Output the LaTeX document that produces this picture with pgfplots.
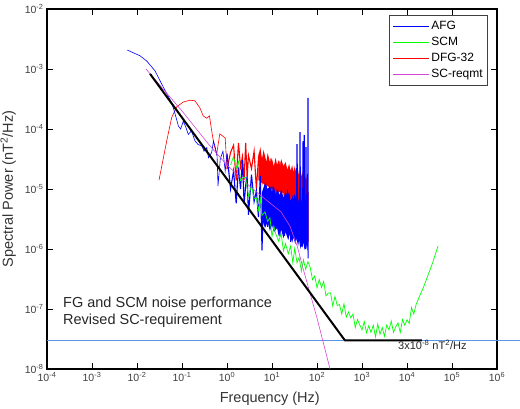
\documentclass[border=0pt]{standalone}
\usepackage{pgfplots}
\pgfplotsset{compat=1.18}
\usepackage{fontspec}
\setmainfont{Liberation Sans}
\definecolor{afgblue}{RGB}{0,0,255}
\definecolor{scmgreen}{RGB}{0,255,0}
\definecolor{dfgred}{RGB}{255,0,0}
\definecolor{reqmag}{RGB}{214,70,214}
\definecolor{reqline}{RGB}{90,150,230}
\begin{document}
\begin{tikzpicture}
\begin{axis}[
  at={(47pt,39pt)}, anchor=south west,
  scale only axis, width=450pt, height=360pt,
  xmode=log, ymode=log, log basis x=10, log basis y=10,
  xmin=1e-4, xmax=1e6, ymin=1e-8, ymax=1e-2,
  clip=false,
  xtick={1e-4,1e-3,1e-2,1e-1,1,10,100,1e3,1e4,1e5,1e6},
  ytick={1e-8,1e-7,1e-6,1e-5,1e-4,1e-3,1e-2},
  xticklabel={\pgfmathparse{int(round(\tick))}10\textsuperscript{\pgfmathresult}},
  yticklabel={\pgfmathparse{int(round(\tick))}10\textsuperscript{\pgfmathresult}},
  tick label style={font=\fontsize{10.5}{12}\selectfont, text=black!75},
  xlabel={Frequency (Hz)},
  ylabel={Spectral Power (nT\textsuperscript{2}/Hz)},
  label style={font=\fontsize{14.5}{16}\selectfont, text=black!80},
  xlabel style={at={(axis description cs:0.495,-0.0944)}, anchor=base},
  ylabel style={at={(axis description cs:-0.0756,0.5)}, anchor=base},
  axis line style={line width=1.1pt},
  major tick length=6pt, minor tick length=3.5pt,
  major tick style={line width=0.7pt, black},
  minor tick style={line width=0.5pt, black},
  legend style={at={(axis description cs:0.98,0.983)}, anchor=north east,
    draw=black!75, line width=0.6pt, fill=white,
    font=\fontsize{12}{13}\selectfont, inner xsep=3pt, inner ysep=4pt, row sep=2pt},
  legend cell align=left,
  legend image code/.code={\draw[#1] (0pt,0pt) -- (36pt,0pt);},
]
\addlegendimage{color=afgblue, draw=afgblue, line width=0.7pt}
\addlegendentry{AFG}
\addlegendimage{color=scmgreen, draw=scmgreen, line width=0.7pt}
\addlegendentry{SCM}
\addlegendimage{color=dfgred, draw=dfgred, line width=0.7pt}
\addlegendentry{DFG-32}
\addlegendimage{color=reqmag, draw=reqmag, line width=0.7pt}
\addlegendentry{SC-reqmt}

% requirement level
\addplot[reqline, line width=0.8pt, forget plot] coordinates {(1e-4,3e-8)(3.2e6,3e-8)};

% DFG-32 dense core of the noise band
\addplot[fill=dfgred, draw=none, forget plot] coordinates {
(5,3.55e-5)(5.5,5.01e-5)(6,3.16e-5)(6.5,4.47e-5)(7,3.55e-5)(7.5,2.82e-5)(8,3.98e-5)(9,2.82e-5)(10,3.16e-5)(11,2.40e-5)(12,3.31e-5)(13,2.51e-5)(14,3.02e-5)(15,2.24e-5)(16,3.16e-5)(18,2.40e-5)(20,2.82e-5)(22,2.09e-5)(24,2.63e-5)(26,2.0e-5)(28,2.51e-5)(30,1.91e-5)(32,2.40e-5)(35,1.78e-5)(37,2.24e-5)(40,1.66e-5)(42,2.19e-5)(45,1.58e-5)(47,2.0e-5)(50,1.51e-5)(52,1.91e-5)(55,1.41e-5)(57,1.78e-5)(60,1.32e-5)(62,1.66e-5)(63,1.41e-5)
(63,3.98e-6)(60,5.01e-6)(55,5.01e-6)(50,5.62e-6)(45,5.62e-6)(40,6.31e-6)(35,6.31e-6)(30,7.08e-6)(25,7.94e-6)(20,8.32e-6)(16,8.91e-6)(13,8.91e-6)(10,1.0e-5)(8,1.12e-5)(6,1.26e-5)(5,1.41e-5)
} -- cycle;
% DFG-32 (low frequencies)
\addplot[dfgred, line width=0.6pt, forget plot] coordinates {
(0.0309,1.41e-5)(0.0457,6.31e-5)(0.0589,1.55e-4)(0.0759,2.34e-4)(0.107,2.82e-4)(0.151,3.02e-4)(0.195,2.95e-4)(0.251,2.24e-4)(0.295,1.66e-4)(0.355,1.51e-4)(0.407,1.66e-4)(0.457,9.33e-5)(0.513,5.50e-5)(0.589,3.80e-5)(0.692,8.32e-5)(0.912,7.08e-5)(1.0,2.14e-5)
};
% DFG-32 (noise band)
\addplot[dfgred, line width=1.1pt, forget plot] coordinates {
(1.0,2.14e-5)(1.2,4.07e-5)(1.4,5.37e-5)(1.6,1.38e-5)(1.8,5.89e-5)(2.0,2.34e-5)(2.2,3.47e-5)(2.4,1.41e-5)(2.6,5.89e-5)(2.8,1.55e-5)(3.0,3.63e-5)(3.5,2.19e-5)(4,4.27e-5)(4.5,1.0e-5)(5,3.24e-5)(5.5,2.0e-5)(6,1.38e-5)(6.5,3.72e-5)(7,9.77e-6)(7.5,2.29e-5)(8,1.12e-5)(8.5,2.88e-5)(9,6.92e-6)(9.5,3.24e-5)(10,1.02e-5)
(11,1.91e-5)(12,6.46e-6)(13,2.24e-5)(14,1.05e-5)(15,2.88e-5)(16,6.17e-6)(17,1.20e-5)(18,1.62e-5)(19,4.27e-6)(20,1.82e-5)(21,7.41e-6)(22,1.10e-5)(23,4.47e-6)(24,1.91e-5)(25,5.01e-6)(26,1.15e-5)(27,7.24e-6)(28,1.45e-5)(29,3.47e-6)(30,1.15e-5)(31,7.24e-6)(32,5.01e-6)(33,1.38e-5)(34,3.63e-6)(35,8.71e-6)(36,4.27e-6)(37,1.10e-5)(38,2.63e-6)(39,1.23e-5)(40,3.98e-6)(41,7.76e-6)(42,2.69e-6)(43,9.77e-6)(44,4.79e-6)(45,1.35e-5)(46,2.95e-6)(47,6.03e-6)(48,8.32e-6)(49,2.24e-6)(50,9.77e-6)(51,3.98e-6)(52,6.17e-6)(53,2.51e-6)(54,1.10e-5)(55,2.88e-6)(56,6.92e-6)(57,4.37e-6)(58,8.91e-6)(59,2.14e-6)(60,7.24e-6)(61,4.57e-6)(62,3.24e-6)(63,8.91e-6)(63.5,1.3e-6)
};

% AFG dense core of the noise band
\addplot[fill=afgblue, draw=none, forget plot] coordinates {
(6,8.91e-6)(7,1.26e-5)(8,1.0e-5)(9,1.12e-5)(10,8.91e-6)(11,1.12e-5)(12,7.94e-6)(13,1.0e-5)(15,7.94e-6)(16,1.0e-5)(18,7.08e-6)(20,8.91e-6)(22,7.59e-6)(24,8.91e-6)(26,6.31e-6)(28,7.94e-6)(30,6.61e-6)(32,8.32e-6)(35,6.31e-6)(37,7.94e-6)(40,5.62e-6)(42,7.59e-6)(45,6.03e-6)(47,7.59e-6)(50,5.62e-6)(52,7.08e-6)(55,6.03e-6)(57,7.08e-6)(60,5.25e-6)(62,6.61e-6)(63,5.62e-6)
(63,1.12e-6)(62,8.91e-7)(60,1.26e-6)(58,1.0e-6)(55,1.20e-6)(53,9.55e-7)(50,1.32e-6)(48,1.05e-6)(45,1.26e-6)(43,1.0e-6)(40,1.41e-6)(38,1.12e-6)(35,1.51e-6)(33,1.20e-6)(30,1.58e-6)(28,1.26e-6)(25,1.78e-6)(23,1.41e-6)(20,1.91e-6)(18,1.51e-6)(16,2.09e-6)(14,1.66e-6)(13,2.24e-6)(11,1.91e-6)(10,2.51e-6)(9,2.0e-6)(8,2.82e-6)(7,2.24e-6)(6,3.16e-6)
} -- cycle;
% AFG (low frequencies)
\addplot[afgblue, line width=0.6pt, forget plot] coordinates {
(0.0061,2.07e-3)(0.0117,1.66e-3)(0.0166,1.35e-3)(0.0251,9.33e-4)(0.0389,4.90e-4)(0.0589,2.75e-4)(0.0692,1.86e-4)(0.0832,1.12e-4)(0.0933,1.0e-4)(0.107,1.35e-4)(0.123,1.05e-4)(0.138,8.13e-5)(0.162,9.33e-5)(0.195,6.31e-5)(0.229,5.50e-5)(0.275,5.25e-5)(0.309,4.27e-5)(0.355,4.90e-5)(0.389,3.31e-5)(0.457,4.07e-5)(0.501,6.31e-5)(0.537,5.25e-5)(0.603,3.55e-5)(0.631,1.12e-5)(0.708,3.16e-5)(0.813,4.27e-5)(0.912,2.0e-5)(1.0,3.89e-5)
};
% AFG (noise band)
\addplot[afgblue, line width=1.1pt, forget plot] coordinates {
(1.0,3.89e-5)(1.2,1.0e-5)(1.4,2.0e-5)(1.6,5.75e-6)(1.8,2.29e-5)(2.0,1.0e-5)(2.2,3.02e-5)(2.4,5.62e-6)(2.6,1.15e-5)(2.8,1.62e-5)(3.0,3.72e-6)(3.5,1.74e-5)(4,6.17e-6)(4.5,9.33e-6)(5,3.39e-6)(5.5,1.66e-5)(6,9.5e-7)(6.5,9.33e-6)(7,5.62e-6)(7.5,1.15e-5)(8,2.34e-6)(8.5,8.91e-6)(9,5.37e-6)(9.5,3.47e-6)(10,1.10e-5)
(11,2.45e-6)(12,6.31e-6)(13,2.82e-6)(14,7.94e-6)(15,1.62e-6)(16,9.12e-6)(17,2.51e-6)(18,5.37e-6)(19,1.66e-6)(20,6.92e-6)(21,3.16e-6)(22,9.77e-6)(23,1.86e-6)(24,3.98e-6)(25,5.75e-6)(26,1.32e-6)(27,6.76e-6)(28,2.51e-6)(29,4.07e-6)(30,1.51e-6)(31,7.94e-6)(32,1.82e-6)(33,4.79e-6)(34,2.88e-6)(35,6.17e-6)(36,5.62e-5)(37,5.01e-6)(38,3.02e-6)(39,2.04e-6)(40,6.46e-6)(41,1.51e-6)(42,8.91e-5)(43,1.78e-6)(44,5.13e-6)(45,1.10e-6)(46,6.17e-6)(47,1.74e-6)(48,3.72e-6)(49,6.31e-5)(50,4.90e-6)(51,2.24e-6)(52,7.94e-5)(53,1.38e-6)(54,2.95e-6)(55,4.27e-6)(56,1.0e-6)(57,5.01e-5)(58,1.91e-6)(59,3.09e-6)(60,1.17e-6)(61,6.17e-6)(62,1.41e-6)(63,3.31e-4)(63.5,7e-7)
};

% SCM
\addplot[scmgreen, line width=0.7pt, forget plot] coordinates {
(1.2,2.51e-5)(1.4,3.47e-5)(1.6,2.24e-5)(1.8,2.88e-5)(2.0,1.38e-5)(2.3,1.55e-5)(2.6,1.55e-5)(3.0,7.59e-6)(3.5,1.15e-5)(4,6.92e-6)(4.5,7.08e-6)(5,4.37e-6)(5.5,6.92e-6)(6,3.63e-6)(7,4.17e-6)(8,2.88e-6)(9,3.31e-6)(10,1.62e-6)(11,2.40e-6)(12,1.82e-6)(14,1.35e-6)(16,1.78e-6)(18,9.33e-7)(20,1.23e-6)(23,8.32e-7)(26,1.12e-6)(29,5.89e-7)(32,1.02e-6)(36,5.89e-7)(40,7.24e-7)(45,4.27e-7)(50,6.61e-7)(56,4.57e-7)(63,6.17e-7)
(70.8,4.90e-7)(79.4,3.09e-7)(89.1,3.55e-7)(100,2.26e-7)(112,3.09e-7)(126,2.29e-7)(141,2.88e-7)(158,1.66e-7)(178,1.84e-7)(200,1.86e-7)(224,1.12e-7)(251,1.62e-7)(282,1.14e-7)(316,1.19e-7)(355,8.22e-8)(398,1.22e-7)(447,7.33e-8)(501,8.91e-8)(562,7.16e-8)(631,8.22e-8)(708,4.90e-8)(794,6.68e-8)(891,5.43e-8)(1000,4.47e-8)(1122,6.17e-8)(1259,4.03e-8)(1413,5.25e-8)(1585,4.07e-8)(1778,5.37e-8)(1995,3.43e-8)(2239,5.62e-8)(2512,3.80e-8)(2818,4.90e-8)(3162,3.51e-8)(3548,5.43e-8)(3981,4.47e-8)(4467,6.31e-8)(5012,4.07e-8)(5623,5.07e-8)(6310,5.89e-8)(7079,4.07e-8)(7943,6.68e-8)(8913,5.37e-8)(10000,6.61e-8)(11220,5.75e-8)(12590,1.06e-7)(14130,8.22e-8)(15850,1.17e-7)(17780,1.45e-7)(19950,1.78e-7)(22910,2.24e-7)(25120,2.69e-7)(28180,3.39e-7)(31620,4.27e-7)(36310,5.62e-7)(39810,6.92e-7)(44670,9.12e-7)(48980,1.12e-6)
};

% SC requirement curve
\addplot[reqmag, line width=0.6pt, forget plot] coordinates {
(0.0158,1.0e-3)(0.1,2.0e-4)(0.417,5.25e-5)(1,2.51e-5)(3.16,1.12e-5)(7.94,6.31e-6)(15.8,4.17e-6)(25.1,2.40e-6)(36.3,1.12e-6)(50.1,4.47e-7)(100,7.08e-8)(195,1.0e-8)
};

% revised requirement
\addplot[black, line width=2pt, forget plot] coordinates {(0.0195,8.3e-4)(417,3e-8)(2.15e4,3e-8)};

\node[anchor=base west, inner sep=0, font=\fontsize{14.5}{16}\selectfont, text=black!85] at (axis cs:2.27e-4,1.04e-7) {FG and SCM noise performance};
\node[anchor=base west, inner sep=0, font=\fontsize{14.5}{16}\selectfont, text=black!85] at (axis cs:2.27e-4,5.6e-8) {Revised SC-requirement};
\node[anchor=base west, inner sep=0, font=\fontsize{11}{12}\selectfont, text=black!85] at (axis cs:6310,2.15e-8) {3x10\textsuperscript{-8} nT\textsuperscript{2}/Hz};
\end{axis}
\pgfresetboundingbox
\useasboundingbox (0,0) rectangle (520pt,408pt);
\end{tikzpicture}
\end{document}
